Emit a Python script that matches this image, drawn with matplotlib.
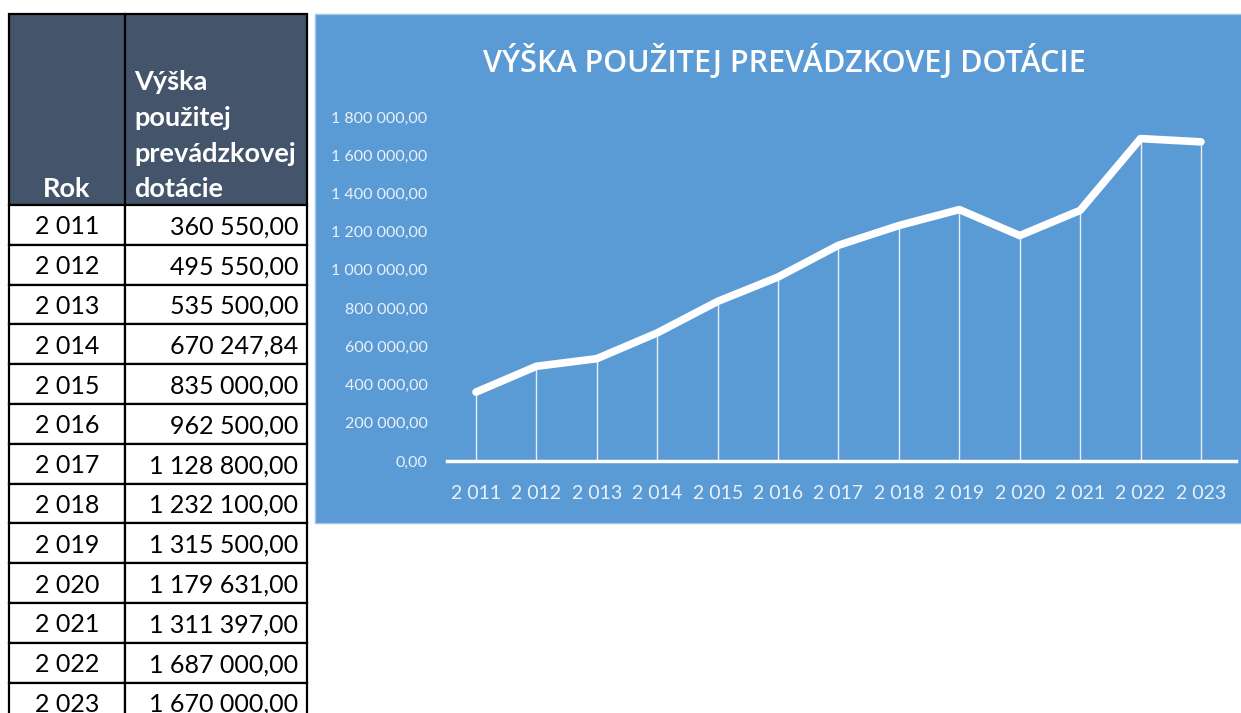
import matplotlib.pyplot as plt
from matplotlib.patches import Rectangle

years = [2011, 2012, 2013, 2014, 2015, 2016, 2017, 2018, 2019, 2020, 2021, 2022, 2023]
values = [360550.00, 495550.00, 535500.00, 670247.84, 835000.00, 962500.00,
          1128800.00, 1232100.00, 1315500.00, 1179631.00, 1311397.00, 1687000.00, 1670000.00]
header_rok = "Rok"
header_val = ["Výška", "použitej", "prevádzkovej", "dotácie"]
title = "VÝŠKA POUŽITEJ PREVÁDZKOVEJ DOTÁCIE"
yticks = [0, 200000, 400000, 600000, 800000, 1000000, 1200000, 1400000, 1600000, 1800000]


def sk_num(v):
    # slovak style: space thousands, comma decimal
    return f"{v:,.2f}".replace(",", " ").replace(".", ",")


def sk_year(y):
    return f"{y:,}".replace(",", " ")


W, H = 1241, 713
fig = plt.figure(figsize=(W / 100, H / 100), dpi=100)
fig.patch.set_facecolor("white")

# background axes in pixel coords
bg = fig.add_axes([0, 0, 1, 1])
bg.set_xlim(0, W)
bg.set_ylim(H, 0)
bg.axis("off")

# ---- table ----
tx0, tx1, tx2 = 9, 125, 307
hy0, hy1 = 14, 205
rh = 39.8
black = "black"
bg.add_patch(Rectangle((tx0, hy0), tx2 - tx0, hy1 - hy0, facecolor="#44546A",
                       edgecolor=black, lw=1.6))
bg.plot([tx1, tx1], [hy0, hy1], color=black, lw=1.6)
bg.text((tx0 + tx1) / 2, 197, header_rok, color="white", fontsize=19.5,
        fontweight="bold", family="Lato", ha="center", va="baseline")
for i, line in enumerate(header_val):
    bg.text(134, 197 - 35.5 * (len(header_val) - 1 - i), line, color="white",
            fontsize=19.5, fontweight="bold", family="Lato", ha="left", va="baseline")

for i, (yr, v) in enumerate(zip(years, values)):
    top = hy1 + i * rh
    bg.add_patch(Rectangle((tx0, top), tx1 - tx0, rh, facecolor="white",
                           edgecolor=black, lw=1.6))
    bg.add_patch(Rectangle((tx1, top), tx2 - tx1, rh, facecolor="white",
                           edgecolor=black, lw=1.6))
    bg.text((tx0 + tx1) / 2, top + rh / 2 + 2, sk_year(yr), fontsize=18,
            family="Lato", ha="center", va="center", color="black")
    bg.text(298, top + rh / 2 + 2, sk_num(v), fontsize=18, family="Lato",
            ha="right", va="center", color="black")

# ---- chart panel ----
panel = "#5B9BD5"
bg.add_patch(Rectangle((315, 14), W - 315 + 5, 523 - 14, facecolor=panel,
                       edgecolor="#9DC3E6", lw=1))
bg.text(784, 62, title, color="white", fontsize=22, fontweight="semibold",
        family="Open Sans", ha="center", va="center")

left, right, bottom, top = 447, 1236, 461, 117
ax = fig.add_axes([left / W, (H - bottom) / H, (right - left) / W, (bottom - top) / H])
ax.set_facecolor("none")
xs = list(range(len(years)))
ax.set_xlim(-0.48, 12.58)
ax.set_ylim(0, 1800000)

ax.vlines(xs, 0, values, color="white", lw=1, alpha=0.85)
ax.plot(xs, values, color="white", lw=5.5, solid_joinstyle="round",
        solid_capstyle="round", clip_on=False, zorder=3)
ax.axhline(0, color="white", lw=2.5, clip_on=False)

for s in ax.spines.values():
    s.set_visible(False)
ax.set_yticks(yticks)
ax.set_yticklabels([sk_num(t) for t in yticks])
ax.set_xticks(xs)
ax.set_xticklabels([sk_year(y) for y in years])
ax.tick_params(axis="y", length=0, pad=14, labelsize=11.5, labelcolor="#EAF1F9")
ax.tick_params(axis="x", length=0, pad=17, labelsize=14, labelcolor="#EAF1F9")
for lbl in ax.get_xticklabels() + ax.get_yticklabels():
    lbl.set_family("Lato")

fig.savefig("out.png", dpi=100)
